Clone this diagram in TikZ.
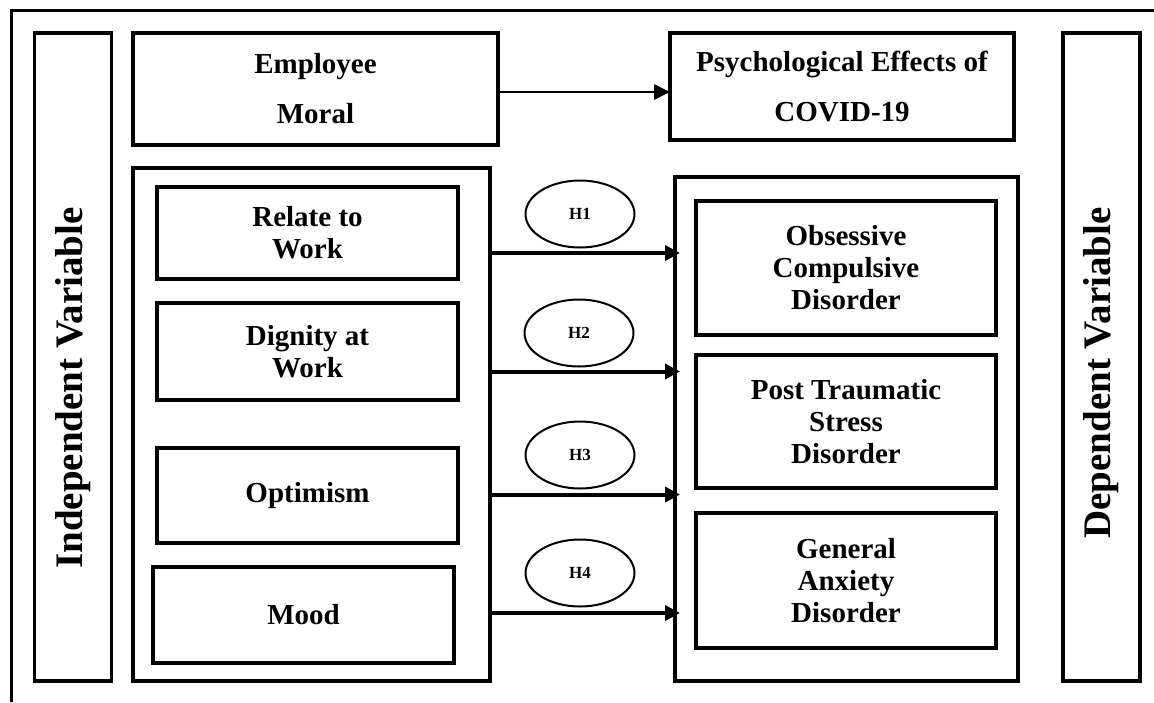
\documentclass[tikz,border=0pt]{standalone}
\usepackage{fontspec}
\setmainfont{Liberation Serif}
\usetikzlibrary{arrows.meta,positioning,shapes.geometric}

\begin{document}
\begin{tikzpicture}[x=1pt,y=-1pt,
    box/.style={draw,line width=3.3pt,outer sep=0pt,inner sep=0pt,align=center,
      font=\fontsize{29}{32}\selectfont\bfseries},
    hyp/.style={draw,ellipse,line width=2pt,minimum width=109pt,minimum height=67pt,
      inner sep=0pt,font=\fontsize{17}{20}\selectfont\bfseries},
    varbox/.style={box,minimum width=77pt,minimum height=648pt},
    vartext/.style={rotate=90,inner sep=0pt,font=\fontsize{39}{40}\selectfont\bfseries},
    arr/.style={-{Triangle[length=15pt,width=15pt]},line width=4pt,shorten >=-5pt},
    thinarr/.style={-{Triangle[length=16pt,width=15pt]},line width=2.6pt}]
  \useasboundingbox (0,0) rectangle (1154,702);
  \draw[line width=3pt] (11,702) -- (11,10) -- (1154,10);

  \node[varbox] (indep) at (73,357) {};
  \node[vartext] (indeptext) at (73,388) {Independent Variable};
  \node[varbox] (dep) at (1101.5,357) {};
  \node[vartext] (deptext) at (1101.5,373) {Dependent Variable};

  \node[box,minimum width=365pt,minimum height=112pt,
    font=\fontsize{29}{50}\selectfont\bfseries] (emp) at (315.5,89) {Employee\\Moral};
  \node[box,minimum width=344pt,minimum height=107pt,
    font=\fontsize{29}{50}\selectfont\bfseries] (psy) at (842,86.5)
    {Psychological Effects of\\COVID-19};

  \node[box,minimum width=357pt,minimum height=513pt] (ivbox) at (311.5,424.5) {};
  \node[box,minimum width=343pt,minimum height=504pt] (dvbox) at (846.5,429) {};

  \node[box,minimum width=301pt,minimum height=92pt] (rel) at (307.5,233) {Relate to\\Work};
  \node[box,minimum width=301pt,minimum height=97pt,below=24pt of rel] (dig) {Dignity at\\Work};
  \node[box,minimum width=301pt,minimum height=95pt,below=48pt of dig] (opt) {Optimism};
  \node[box,minimum width=301pt,minimum height=96pt,below=24pt of opt,xshift=-4pt] (mood) {Mood};

  \node[box,minimum width=300pt,minimum height=134pt] (ocd) at (846,268)
    {Obsessive\\Compulsive\\Disorder};
  \node[box,minimum width=300pt,minimum height=133pt,below=20pt of ocd] (ptsd)
    {Post Traumatic\\Stress\\Disorder};
  \node[box,minimum width=300pt,minimum height=135pt,below=25pt of ptsd] (gad)
    {General\\Anxiety\\Disorder};

  \node[hyp] (h1) at (580,214) {H1};
  \node[hyp] (h2) at (579,333) {H2};
  \node[hyp] (h3) at (580,455) {H3};
  \node[hyp] (h4) at (580,573) {H4};

  \draw[thinarr] ([yshift=-3pt]emp.east) -- ([yshift=-3pt]emp.east -| psy.west);
  \foreach \src/\dy in {rel/20,dig/20,opt/-1,mood/-2}
    \draw[arr] ([yshift=-\dy pt]\src.east -| ivbox.east) -- ([yshift=-\dy pt]\src.east -| dvbox.west);
\end{tikzpicture}
\end{document}
